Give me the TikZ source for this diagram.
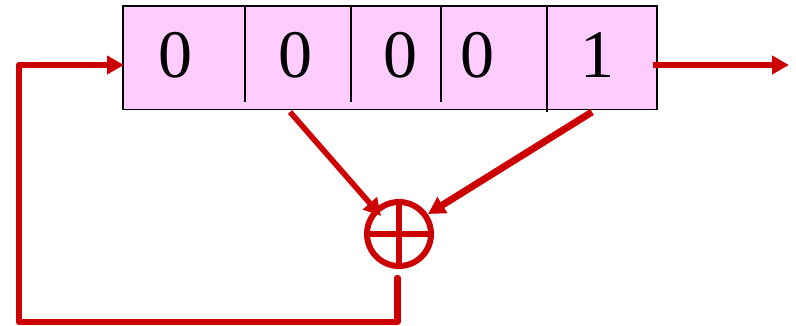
\documentclass[tikz,border=0pt]{standalone}
\usepackage{fontspec}
\setmainfont{Liberation Serif}
\usetikzlibrary{arrows.meta}
\definecolor{wire}{RGB}{204,0,0}
\definecolor{cellfill}{RGB}{255,204,255}
\tikzset{
  regbox/.style={draw=black,line width=1.9pt,fill=cellfill,minimum width=534pt,minimum height=103.5pt,inner sep=0pt,outer sep=0pt},
  divider/.style={draw=black,line width=1.9pt},
  digit/.style={font=\fontsize{68}{68}\selectfont,text=black,inner sep=0pt},
  xorgate/.style={circle,draw=wire,line width=6pt,minimum size=64pt,inner sep=0pt,outer sep=0pt},
  crossbar/.style={draw=wire,line width=5.6pt},
  wireline/.style={draw=wire,line width=6.4pt,line join=round},
  wirearrow/.style={wireline,-{Triangle[length=17pt,width=18pt]}},
}
\begin{document}
\begin{tikzpicture}[x=1pt,y=-1pt]
\useasboundingbox (0,0) rectangle (796,326);
\node[regbox] (reg) at (390,57.75) {};
\draw[divider] (245,6) -- (245,102);
\draw[divider] (351,6) -- (351,102);
\draw[divider] (441,6) -- (441,102);
\draw[divider] (547,6) -- (547,112);
\node[digit] (d1) at (175,55) {0};
\node[digit] (d2) at (295,55) {0};
\node[digit] (d3) at (400.7,55) {0};
\node[digit] (d4) at (477,55) {0};
\node[digit] (d5) at (597.7,55) {1};
\node[xorgate] (xor) at (399,234) {};
\draw[crossbar] (xor.north) -- (xor.south);
\draw[crossbar] (xor.west) -- (xor.east);
\coordinate (tapA) at (290,112);
\coordinate (tapB) at (592,112);
\coordinate (inA) at (381,216);
\coordinate (inB) at (428,214);
\coordinate (xorout) at (397.5,278);
\coordinate (c1) at (397.5,322);
\coordinate (c2) at (19,322);
\coordinate (c3) at (19,65);
\coordinate (regin) at (124,65);
\coordinate (regout) at (653,65);
\coordinate (out) at (789,65);
\draw[wirearrow,line width=5.6pt] (tapA) -- (inA);
\draw[wirearrow,line width=7pt] (tapB) -- (inB);
\draw[wirearrow] (regout) -- (out);
\draw[wirearrow,line cap=round] (xorout) -- (c1) -- (c2) -- (c3) -- (regin);
\end{tikzpicture}
\end{document}
